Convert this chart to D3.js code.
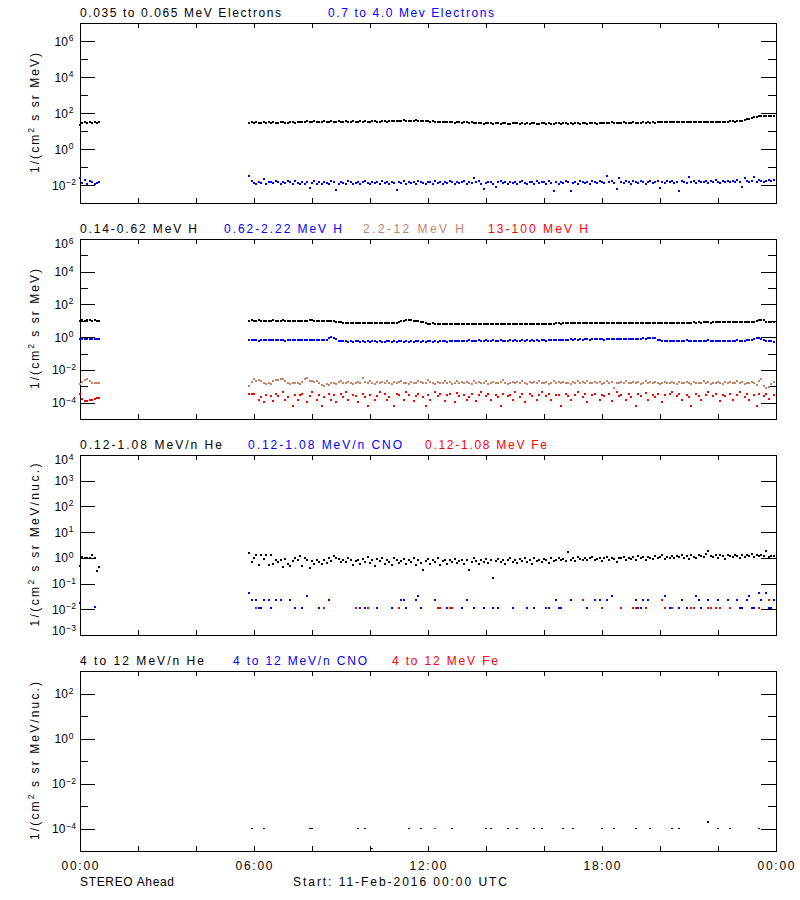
<!DOCTYPE html>
<html><head><meta charset="utf-8">
<script src="https://cdn.jsdelivr.net/npm/d3@7"></script>
<style>
body{margin:0;background:#fff}
svg{display:block}
text{font-family:"Liberation Sans",Arial,Helvetica,sans-serif;}
</style>
</head><body>
<svg id="c" width="800" height="900"></svg>
<script>
// ---------------- DATA ----------------
// sampling: 5-minute averages; two data segments (00:00-00:40, 05:50-24:00)
const seg1Start = 0, seg2Start = 350, stepMin = 5;

// Panel 1 — electrons
const elecTitles = ["0.035 to 0.065 MeV Electrons", "0.7 to 4.0 Mev Electrons"];
const eLow1 = [22,27,30,29,30,28,30,29,30];
const eLow2 = [27,30,28,31,29,27,30,29,31,28,30,29,27,30,31,29,28,30,32,29,30,
31,33,32,34,31,33,35,32,33,31,34,33,32,35,33,31,34,32,33,36,33,32,34,33,31,35,33,34,32,33,35,34,33,31,34,36,33,35,34,36,35,
38,36,39,37,38,36,37,39,35,37,36,34,35,33,34,32,33,
32,31,33,30,31,32,29,31,30,28,32,30,29,31,28,29,
27,28,26,28,27,29,25,27,28,26,27,28,26,25,27,28,27,26,28,24,27,26,28,27,25,26,27,28,26,27,25,26,28,27,26,27,28,26,27,26,28,27,26,27,28,26,27,28,27,26,
28,29,27,29,28,30,29,28,29,27,30,29,28,29,30,29,28,29,30,29,31,29,30,29,30,
31,32,30,32,31,33,32,31,32,30,33,32,31,32,33,31,32,30,32,33,31,32,33,32,31,33,32,31,33,
34,35,33,36,35,37,40,44,49,54,58,61,66,70,64,68,71,67,69];
const eHigh1 = [.025,.013,.019,.011,.016,.014,.012,.013,.014];
const eHigh2 = [.03,.016,.013,.012,.014,.013,.022,.012,.014,.015,.013,.016,.014,.012,.015,.013,.017,.014,.012,.016,.013,.011,
.014,.012,.015,.0065,.013,.016,.012,.014,.011,.015,.013,.012,.017,.014,.005,.012,.015,.013,.011,.016,.014,.012,
.013,.015,.012,.014,.016,.013,.011,.015,.013,.014,.012,.016,.013,.015,.012,.014,.013,.0055,.015,.013,.016,.012,
.014,.013,.015,.012,.016,.014,.013,.011,.015,.014,.012,.016,.013,.014,.012,.015,.013,.017,.014,.012,.015,.013,
.014,.016,.012,.015,.013,.025,.014,.016,.012,.006,.013,.015,.014,.012,.008,.014,.016,.013,.015,.012,.014,.013,
.015,.012,.014,.016,.013,.011,.015,.014,.012,.016,.013,.015,.014,.012,.016,.013,.0048,.014,.012,.015,.013,.016,
.014,.0048,.013,.015,.012,.016,.014,.013,.015,.012,.017,.014,.013,.016,.015,.013,.03,.014,.016,.013,.006,.025,
.015,.013,.016,.014,.012,.017,.015,.013,.016,.014,.012,.015,.017,.013,.014,.016,.007,.015,.013,.017,.014,.016,
.013,.015,.0048,.016,.014,.013,.027,.015,.017,.013,.016,.014,.015,.017,.013,.016,.014,.018,.015,.013,.016,.014,
.017,.015,.016,.014,.018,.015,.008,.025,.016,.014,.017,.028,.015,.018,.016,.014,.017,.019,.016,.018];

// Panel 2 — protons
const hTitles = ["0.14-0.62 MeV H", "0.62-2.22 MeV H", "2.2-12 MeV H", "13-100 MeV H"];
const hA1 = [10,11,10,10.5,11.5,10,10.5,10,9.5];
const hA2 = [10,10.5,9.8,10.2,10.8,10,9.6,10.3,10,9.9,10.5,10.1,9.7,10.2,10.6,10,9.8,10.3,10.1,9.9,10.4,10,
10.2,9.7,10.1,10.6,11,10.3,9.9,10.1,9.8,10.2,9.6,10,9.5,9.2,9,8.5,8.2,7.8,7.6,7.5,7.8,7.4,
7.6,7.3,7.7,7.5,7.2,7.6,7.4,7.8,7.3,7.5,7.7,7.2,7.5,7.4,7.7,7.3,7.6,7.5,8.5,9.5,10.2,10.8,
11.2,10.5,10,10.4,9.6,9,8.2,7.2,6.8,6.6,6.9,6.4,6.7,6.5,6.3,6.6,6.8,6.4,6.5,6.2,6.6,6.4,
6.5,6.3,6.7,6.4,6.1,6.5,6.6,6.3,6.2,6,6.4,6.5,6.2,6.3,6.6,6.4,6.1,6.5,6.3,6.6,6.4,6.2,
6.5,6.3,6.4,6.6,6.2,6.5,6.3,6.7,6.4,6.5,6.3,6.6,6.4,6.8,6.5,6.7,6.6,6.9,7,6.8,7.1,6.9,
7,7.2,6.9,7.1,7,7.3,6.9,7.1,7.2,7,7.3,7.1,6.9,7.2,7,7.4,7.1,7.3,7,7.2,7.5,7.1,
7.3,7.6,7.2,7.4,7.7,7.3,7.5,7.2,7.6,7.4,7.3,7.5,7.1,7.4,7.6,7.3,7.5,7.2,7.4,7.6,7.3,7.5,
7.4,7.6,7.3,7.7,7.5,7.8,7.4,7.6,7.9,7.5,8,7.8,8.1,7.9,8.2,7.8,8,8.3,7.9,8.1,8.2,7.9,
8.1,8.3,8,8.2,8.4,8,8.3,8.1,8.5,8.2,8.4,8.6,9.5,11,11.5,10.5,9,8.6,8.8,8.4];
const hB1 = [.75,.74,.76,.75,.74,.75,.76,.75,.74];
const hB2 = [.68,.64,.7,.66,.62,.69,.65,.67,.71,.63,.66,.7,.64,.68,.66,.62,.69,.67,.65,.7,.66,.64,
.68,.65,.7,.66,.63,.69,.67,.72,.68,.66,.7,.85,1,.9,.75,.62,.57,.55,.58,.54,.56,.53,
.57,.55,.52,.56,.54,.58,.53,.55,.57,.52,.56,.54,.53,.57,.55,.52,.56,.54,.58,.55,.53,.57,
.54,.56,.52,.55,.58,.54,.56,.53,.57,.55,.52,.56,.54,.58,.55,.57,.53,.56,.59,.55,.57,.6,
.58,.61,.6,.63,.59,.62,.6,.64,.61,.59,.63,.6,.62,.64,.6,.61,.63,.59,.62,.6,.64,.61,
.63,.6,.62,.65,.61,.63,.6,.64,.62,.66,.61,.63,.65,.62,.64,.66,.63,.67,.7,.68,.72,.69,
.71,.74,.7,.73,.72,.75,.71,.74,.76,.72,.75,.73,.77,.74,.76,.72,.78,.75,.77,.74,.79,.76,
.78,.8,.77,.82,.79,.81,.78,.83,.8,.84,.81,.85,.88,.9,.86,.72,.64,.6,.62,.58,.61,.59,
.62,.6,.58,.61,.59,.63,.6,.57,.61,.59,.62,.6,.58,.61,.63,.59,.6,.62,.58,.61,.59,.6,
.62,.58,.61,.59,.63,.6,.62,.6,.64,.66,.7,.75,.85,.9,.82,.7,.58,.55,.56,.54];
const hC1 = [.0013,.0018,.0024,.0026,.0021,.0017,.0016,.0016,.0016];
const hC2 = [.0011,.0019,.0026,.0022,.0024,.002,.0016,.0014,.0015,.0013,.0021,.0025,.0023,.0026,.0029,.002,.0015,.0014,.0016,.0015,.0017,.0014,
.0018,.0028,.003,.0022,.002,.0019,.0021,.0017,.0012,.0011,.0013,.0012,.0015,.0016,.0014,.0019,.0021,.0017,.0015,.0018,.0016,.0014,
.0017,.0019,.0015,.0032,.0018,.0016,.0021,.0017,.0014,.0019,.0016,.0018,.0015,.0022,.0017,.0013,.0019,.0016,.0018,.0021,.0015,.0017,
.0014,.0019,.0017,.0016,.0022,.0018,.0015,.0017,.0024,.0019,.0016,.0013,.0018,.0017,.0015,.002,.0016,.0019,.0014,.0017,.0021,.0016,
.0018,.0015,.0019,.0017,.0014,.0022,.0016,.0018,.0015,.0017,.002,.0013,.0016,.0019,.0017,.0015,.0018,.0023,.0016,.0014,.0017,.0019,
.0015,.0018,.0016,.002,.0017,.0014,.0019,.0016,.0018,.0015,.0021,.0017,.0016,.0019,.0014,.0017,.0022,.0016,.0018,.0015,.0019,.0017,
.0016,.0014,.0019,.0017,.0021,.0015,.0018,.0016,.002,.0017,.0015,.0019,.0016,.0018,.0014,.0017,.0021,.0016,.0019,.0008,.0017,.0015,
.0018,.0016,.0022,.0017,.0015,.0019,.0016,.0018,.0014,.0017,.002,.0016,.0018,.0015,.0019,.0017,.0013,.0016,.0018,.0015,.0017,.0019,
.0016,.0014,.0018,.0017,.0015,.0019,.0016,.0013,.0018,.0016,.0017,.0015,.002,.0016,.0018,.0014,.0017,.0015,.0019,.0016,.0014,.0018,
.0016,.0019,.0015,.0017,.0021,.0016,.0018,.0014,.0017,.0015,.0019,.0016,.0012,.0022,.0026,.0011,.00076,.0009,.0013,.0019];
const hD1 = [.00034,.00016,.00012,.00012,.00014,.00015,.00017,.00019,.0002];
const hD2 = [.00034,.00035,.00032,null,.00014,.00022,.00011,.0003,null,.00024,.00013,.00034,.00026,null,.00043,.00014,.00021,null,.00006,.0003,.00015,.00028,
.00032,null,.00011,.00025,.00046,null,.00014,.00031,.00006,.00023,null,.00034,.00015,.00029,.00011,null,.00033,.00022,.00044,.00014,null,.0003,
.00026,.00011,null,.00035,.00022,.00006,.00031,null,.00014,.00027,.00042,null,.00032,.00015,.00023,null,.00006,.00033,.00028,null,.00015,.00045,
.0003,null,.00012,.00026,.00033,null,.00021,.00006,.00031,.00014,null,.00044,.00024,.00032,null,.00013,.00028,.00034,null,.00011,.0004,.00025,
null,.00031,.00015,.00022,.00036,null,.00012,.00029,.00043,null,.00026,.00033,.00014,null,.0003,.00021,.00006,.00034,null,.00025,.00031,.00015,
.00046,null,.00023,.00032,.00011,null,.00033,.00027,null,.00014,.0003,.00042,null,.00024,.00034,.00014,null,.00028,.00031,.00006,null,.00033,
.00024,.00014,null,.00031,.00044,null,.00022,.00033,.00011,null,.00029,.00035,null,.00015,.0003,.00024,null,.00034,.00012,null,.00043,.00026,
.00031,null,.00015,.00033,.00022,null,.00006,.00032,.00027,null,.00041,.00014,null,.0003,.00023,.00034,null,.00011,.00028,null,.00032,.00044,
null,.00025,.00033,.00014,null,.0003,.00022,.00006,null,.00034,.00026,.00014,null,.00031,.00042,null,.00024,.00033,null,.00012,.0003,.00027,
null,.00034,.00015,null,.00029,.00045,null,.00022,.00032,.00014,null,.00031,.00006,.00034,null,.00026,.00033,.00016,null,.00029];

// Panel 3 — low-energy ions
const ionLowTitles = ["0.12-1.08 MeV/n He", "0.12-1.08 MeV/n CNO", "0.12-1.08 MeV Fe"];
const heLow1 = [.47,1.05,1.0,.98,1.02,1.25,1.0,.32,.45];
const heLow2 = [1.55,.7,1.0,1.35,.55,1.3,.9,1.3,.55,1.25,.6,.85,.67,.8,.45,.9,.6,.5,.75,.95,.85,1.2,
.5,.95,.8,.4,.73,.6,.85,.7,.58,.8,.65,.95,.75,1.2,1.0,.9,.7,.85,.67,.95,.8,.55,
.75,.85,.6,.9,.7,1.1,.65,.8,.5,.9,.75,1.0,.6,.85,.7,.55,.95,.8,.65,.75,.9,.6,
.8,.7,.95,.55,.85,.65,.33,.75,.9,.6,.8,.7,1.0,.55,.75,.85,.6,.8,.7,.9,.65,.75,
.85,.6,.8,.33,.7,.95,.75,.6,.85,.7,.9,.65,.8,.17,.75,.9,.7,.85,.6,.8,.95,.7,
.85,.65,.9,.75,1.0,.7,.8,.6,.95,.75,.85,.7,.9,.8,.65,.95,.75,.85,1.0,.8,.9,.75,
1.65,.85,.95,.75,1.05,.9,.8,1.0,.85,.95,1.1,.8,.9,1.0,.75,.95,1.05,.85,1.0,.9,.7,1.0,
.95,1.1,.85,1.0,.9,1.05,.8,1.15,.95,1.05,.85,1.1,1.0,.9,1.2,.95,1.05,1.3,.9,1.1,1.0,1.15,
.95,1.2,1.05,1.3,1.0,1.15,.9,1.25,1.1,1.0,1.3,1.15,1.05,1.4,1.8,1.2,1.1,1.35,1.0,1.25,1.15,.9,
1.3,1.2,1.05,1.35,1.15,.95,1.25,1.1,1.3,1.2,1.4,1.05,1.25,1.15,1.35,1.2,1.8,1.1,1.2,1.15];
// sparse [minute of day, flux]
const cnoLow = [[0,.017],[30,.012],[350,.044],[355,.022],[365,.022],[370,.011],[375,.011],[380,.022],[390,.022],[395,.011],[405,.022],[415,.022],[435,.022],[445,.011],[460,.011],[470,.033],[495,.011],[505,.011],[515,.022],[580,.011],[590,.011],[615,.011],[645,.011],[665,.022],[670,.022],[675,.011],[695,.022],[700,.033],[705,.011],[735,.022],[760,.011],[790,.011],[800,.022],[815,.011],[835,.011],[855,.011],[865,.011],[895,.011],[925,.011],[940,.011],[965,.011],[970,.011],[985,.022],[990,.011],[995,.011],[1015,.022],[1050,.011],[1065,.022],[1075,.022],[1090,.022],[1100,.033],[1150,.022],[1155,.011],[1160,.011],[1165,.022],[1175,.022],[1210,.033],[1220,.011],[1240,.011],[1245,.022],[1255,.011],[1275,.033],[1280,.022],[1285,.011],[1300,.022],[1320,.022],[1340,.022],[1360,.022],[1365,.011],[1370,.011],[1380,.022],[1385,.033],[1390,.011],[1395,.011],[1405,.044],[1410,.022],[1420,.044],[1425,.011],[1430,.011],[1435,.022]];
const feLow = [[365,.011],[505,.011],[570,.011],[595,.011],[660,.011],[740,.011],[745,.011],[765,.011],[770,.011],[1040,.022],[1080,.011],[1120,.011],[1145,.011],[1150,.011],[1170,.011],[1205,.022],[1210,.011],[1225,.011],[1265,.011],[1270,.011],[1300,.011],[1305,.011],[1315,.011],[1325,.011],[1345,.011],[1405,.011],[1425,.022]];

// Panel 4 — high-energy ions (sparse)
const ionHighTitles = ["4 to 12 MeV/n He", "4 to 12 MeV/n CNO", "4 to 12 MeV Fe"];
const heHigh = [[355,1e-4],[475,1e-4],[480,1e-4],[575,1e-4],[590,1e-4],[680,1e-4],[705,1e-4],[770,1e-4],[840,1e-4],[850,1e-4],[885,1e-4],[905,1e-4],[940,1e-4],[955,1e-4],[1000,1e-4],[1020,1e-4],[1080,1e-4],[1105,1e-4],[1150,1e-4],[1180,1e-4],[1225,1e-4],[1240,1e-4],[1300,1.9e-4],[1320,1e-4],[1345,1e-4],[1405,1e-4]];
const cnoHigh = [[380,1e-4],[605,1.2e-5]];
const feHigh = [[735,1e-4]];

// Axis text
const xTickMinutes = [0,120,240,360,480,600,720,840,960,1080,1200,1320,1440];
const xLabelMinutes = [0,360,720,1080,1440];
const xLabels = ["00:00","06:00","12:00","18:00","00:00"];
const yTitleMain = "1/(cm";
const yTitleEnds = [" s sr MeV)", " s sr MeV)", " s sr MeV/nuc.)", " s sr MeV/nuc.)"];
const footerLeft = "STEREO Ahead";
const footerMid = "Start: 11-Feb-2016 00:00 UTC";

// ---------------- DRAWING ----------------
const COL = {k:"#000000", b:"#0000ff", t:"#c8826a", r:"#ff0000"};
const L = 80, R = 776, PH = 180;
const svg = d3.select("#c");
const x = d3.scaleLinear().domain([0,1440]).range([L,R]);

function dense(s1, s2){
  const pts = [];
  s1.forEach((v,i)=>{ if(v!=null && v>0) pts.push([seg1Start+i*stepMin, v]); });
  s2.forEach((v,i)=>{ if(v!=null && v>0) pts.push([seg2Start+i*stepMin, v]); });
  return pts;
}

const panels = [
  {top:23, lo:-3, hi:7, major:2, yLen:120,
   titles:[[elecTitles[0],80,201,COL.k],[elecTitles[1],328,166,COL.b]],
   series:[[dense(eLow1,eLow2),COL.k],[dense(eHigh1,eHigh2),COL.b]], mh:2},
  {top:239, lo:-5, hi:6, major:2, yLen:120,
   titles:[[hTitles[0],80,117,COL.k],[hTitles[1],224,118,COL.b],[hTitles[2],363,101,COL.t],[hTitles[3],488,100,COL.r]],
   series:[[dense(hA1,hA2),COL.k],[dense(hB1,hB2),COL.b],[dense(hC1,hC2),COL.t],[dense(hD1,hD2),COL.r]], mh:2},
  {top:455, lo:-3, hi:4, major:1, yLen:163,
   titles:[[ionLowTitles[0],80,142,COL.k],[ionLowTitles[1],248,154,COL.b],[ionLowTitles[2],425,122,COL.r]],
   series:[[dense(heLow1,heLow2),COL.k],[cnoLow,COL.b],[feLow,COL.r]], mh:2},
  {top:671, lo:-5, hi:3, major:2, yLen:158,
   titles:[[ionHighTitles[0],80,124,COL.k],[ionHighTitles[1],233,134,COL.b],[ionHighTitles[2],392,106,COL.r]],
   series:[[heHigh,COL.k],[cnoHigh,COL.b],[feHigh,COL.r]], mh:1}
];

panels.forEach((p, pi) => {
  const top = p.top, bottom = top + PH;
  const y = d3.scaleLog().domain([Math.pow(10,p.lo), Math.pow(10,p.hi)]).range([bottom, top]);
  const g = svg.append("g");

  const decs = d3.range(p.lo, p.hi+1);
  const isMaj = d => ((d % p.major) + p.major) % p.major === 0;
  const majors = decs.filter(isMaj).map(d=>Math.pow(10,d));
  const minors = decs.filter(d=>!isMaj(d) && d!==p.lo && d!==p.hi).map(d=>Math.pow(10,d));
  const majInner = majors.filter(v=>v!==Math.pow(10,p.lo) && v!==Math.pow(10,p.hi));

  const axG = g.append("g").attr("shape-rendering","crispEdges").attr("color","#000");
  const clean = s => { s.select(".domain").remove(); s.selectAll("text").remove(); };
  axG.append("g").attr("transform",`translate(${L},0)`).call(d3.axisLeft(y).tickValues(majInner).tickSize(-15).tickSizeOuter(0)).call(clean);
  axG.append("g").attr("transform",`translate(${L},0)`).call(d3.axisLeft(y).tickValues(minors).tickSize(-8).tickSizeOuter(0)).call(clean);
  axG.append("g").attr("transform",`translate(${R},0)`).call(d3.axisRight(y).tickValues(majInner).tickSize(-15).tickSizeOuter(0)).call(clean);
  axG.append("g").attr("transform",`translate(${R},0)`).call(d3.axisRight(y).tickValues(minors).tickSize(-8).tickSizeOuter(0)).call(clean);
  axG.append("g").attr("transform",`translate(0,${bottom})`).call(d3.axisBottom(x).tickValues(xTickMinutes).tickSize(-5).tickSizeOuter(0)).call(clean);
  axG.append("g").attr("transform",`translate(0,${top})`).call(d3.axisTop(x).tickValues(xTickMinutes).tickSize(-5).tickSizeOuter(0)).call(clean);
  axG.selectAll("line").attr("stroke","#000").attr("stroke-width",1);

  // frame
  g.append("rect").attr("x",L+0.5).attr("y",top+0.5).attr("width",R-L).attr("height",PH)
    .attr("fill","none").attr("stroke","#000").attr("stroke-width",1).attr("shape-rendering","crispEdges");

  // y tick labels
  majors.forEach(v => {
    const d = Math.round(Math.log10(v));
    const ty = y(v);
    const base = Math.min(Math.max(ty+4.5, top+9), bottom);
    const t = g.append("text").attr("x",64).attr("y",base).attr("text-anchor","middle")
      .attr("font-size",12).attr("fill","#000");
    t.append("tspan").text("10");
    t.append("tspan").attr("font-size",8.5).attr("dy",-4.5).attr("dx",0.8).text(d<0 ? "\u2212"+(-d) : String(d));
  });

  // y title
  const yt = g.append("text").attr("transform",`translate(39,${top+PH/2}) rotate(-90)`)
    .attr("text-anchor","middle").attr("font-size",12).attr("fill","#000")
    .attr("textLength",p.yLen).attr("lengthAdjust","spacing");
  yt.append("tspan").text(yTitleMain);
  yt.append("tspan").attr("font-size",8.5).attr("dy",-5).text("2");
  yt.append("tspan").attr("dy",5).text(yTitleEnds[pi]);

  // titles
  p.titles.forEach(([txt,tx,tw,c]) => {
    g.append("text").attr("x",tx).attr("y",top-6).attr("font-size",12).attr("fill",c)
      .attr("textLength",tw).attr("lengthAdjust","spacing").text(txt);
  });

  // data points
  p.series.forEach(([pts,c]) => {
    g.append("g").attr("fill",c).attr("shape-rendering","crispEdges")
      .selectAll("rect").data(pts).join("rect")
      .attr("x",d=>Math.round(x(d[0]))-1)
      .attr("y",d=>Math.round(y(d[1]))-1)
      .attr("width",2)
      .attr("height",d=> (p.mh===1 && d[1]>1.5e-4) ? 2 : p.mh);
  });

  if (pi === panels.length-1) {
    xLabelMinutes.forEach((m,i) => {
      g.append("text").attr("x",x(m)).attr("y",bottom+19).attr("text-anchor","middle")
        .attr("font-size",12).attr("fill","#000").attr("textLength",37).attr("lengthAdjust","spacing").text(xLabels[i]);
    });
    g.append("text").attr("x",80).attr("y",bottom+34.5).attr("font-size",12).attr("fill","#000")
      .attr("textLength",94).attr("lengthAdjust","spacing").text(footerLeft);
    g.append("text").attr("x",293).attr("y",bottom+34.5).attr("font-size",12).attr("fill","#000")
      .attr("textLength",214).attr("lengthAdjust","spacing").text(footerMid);
  }
});
</script>
</body></html>
